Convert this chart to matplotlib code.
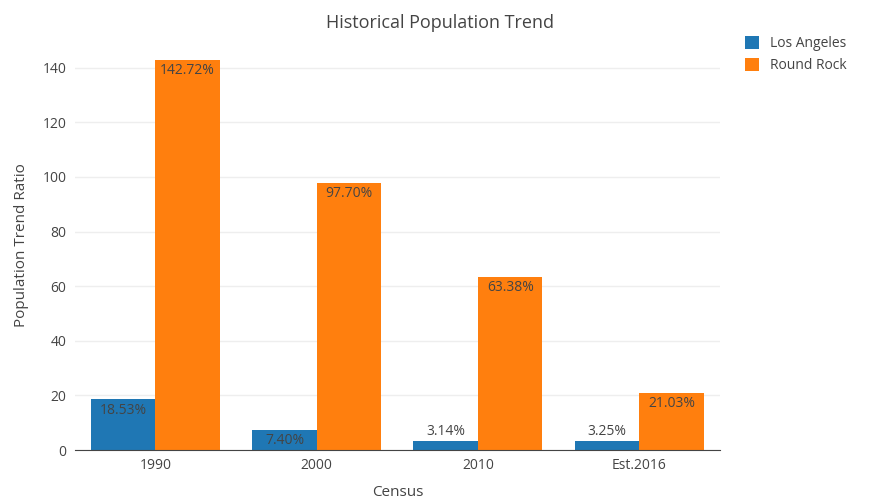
import numpy as np
import matplotlib.pyplot as plt

plt.rcParams['font.family'] = ['Open Sans', 'DejaVu Sans']

categories = ['1990', '2000', '2010', 'Est.2016']
la_values = [18.53, 7.40, 3.14, 3.25]
rr_values = [142.72, 97.70, 63.38, 21.03]
series = [('Los Angeles', la_values, '#1f77b4'), ('Round Rock', rr_values, '#ff7f0e')]

fig = plt.figure(figsize=(8.8, 5.04), dpi=100)
ax = fig.add_axes([0.085, 0.107, 0.733, 0.813])
txt = '#444444'

x = np.arange(len(categories))
w = 0.4
for i, (name, vals, col) in enumerate(series):
    pos = x - w / 2 + i * w
    ax.bar(pos, vals, w, color=col, label=name, zorder=2)
    for p, v in zip(pos, vals):
        label = f'{v:.2f}%'
        if v > 6:
            ax.text(p, v - 1.2, label, ha='center', va='top', fontsize=10, color=txt, zorder=3)
        else:
            ax.text(p, v + 0.8, label, ha='center', va='bottom', fontsize=10, color=txt, zorder=3)

ax.set_xlim(-0.5, len(categories) - 0.5)
ax.set_ylim(0, 150)
ax.set_yticks(range(0, 141, 20))
ax.set_xticks(x)
ax.set_xticklabels(categories)
ax.grid(axis='y', color='#eeeeee', lw=1, zorder=0)
for s in ['top', 'right', 'left']:
    ax.spines[s].set_visible(False)
ax.spines['bottom'].set_color('#444444')
ax.tick_params(length=0, colors=txt, labelsize=10, pad=6)
ax.set_xlabel('Census', fontsize=11, color=txt, labelpad=8)
ax.set_ylabel('Population Trend Ratio', fontsize=11, color=txt, labelpad=10)
fig.text(0.5, 0.955, 'Historical Population Trend', ha='center', va='center', fontsize=13, color=txt)
ax.legend(loc='upper left', bbox_to_anchor=(1.02, 1.04), frameon=False, fontsize=10,
          labelcolor=txt, handlelength=1.0, handleheight=1.0)

plt.savefig('out.png', dpi=100)
